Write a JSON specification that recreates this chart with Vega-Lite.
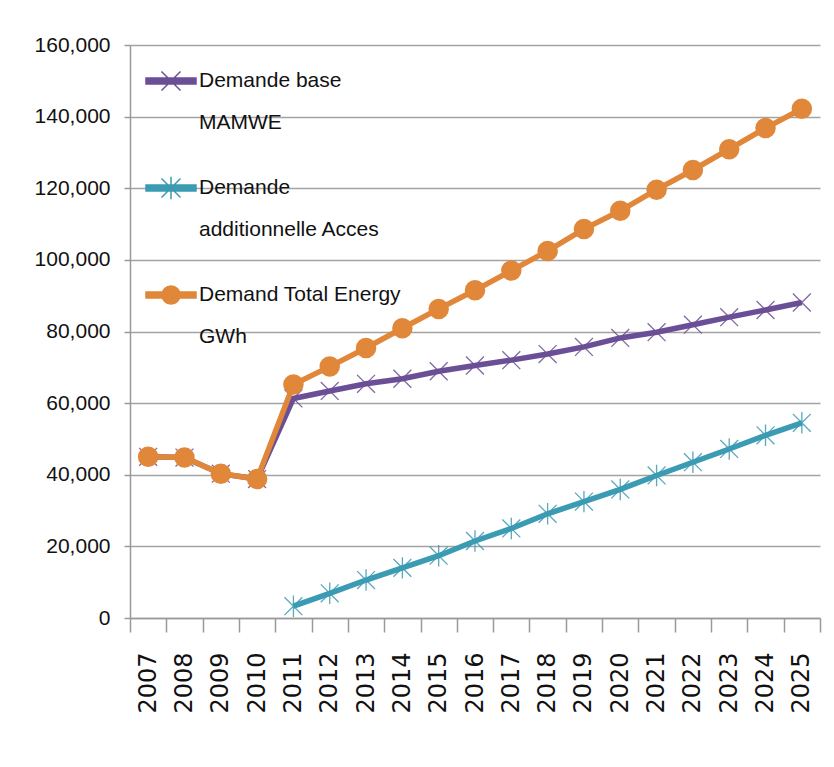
{
  "$schema": "https://vega.github.io/schema/vega-lite/v6.json",
  "width": 690,
  "height": 573,
  "autosize": {"type": "none"},
  "padding": {"left": 130, "top": 45, "right": 14, "bottom": 149},
  "background": "white",
  "data": {
    "values": [
      {"year": "2007", "series": "Demande base MAMWE", "value": 45000},
      {"year": "2008", "series": "Demande base MAMWE", "value": 44800},
      {"year": "2009", "series": "Demande base MAMWE", "value": 40300},
      {"year": "2010", "series": "Demande base MAMWE", "value": 38800},
      {"year": "2011", "series": "Demande base MAMWE", "value": 61300},
      {"year": "2012", "series": "Demande base MAMWE", "value": 63400},
      {"year": "2013", "series": "Demande base MAMWE", "value": 65400},
      {"year": "2014", "series": "Demande base MAMWE", "value": 66800},
      {"year": "2015", "series": "Demande base MAMWE", "value": 68900},
      {"year": "2016", "series": "Demande base MAMWE", "value": 70500},
      {"year": "2017", "series": "Demande base MAMWE", "value": 72000},
      {"year": "2018", "series": "Demande base MAMWE", "value": 73700},
      {"year": "2019", "series": "Demande base MAMWE", "value": 75700},
      {"year": "2020", "series": "Demande base MAMWE", "value": 78200},
      {"year": "2021", "series": "Demande base MAMWE", "value": 79800},
      {"year": "2022", "series": "Demande base MAMWE", "value": 81900},
      {"year": "2023", "series": "Demande base MAMWE", "value": 84000},
      {"year": "2024", "series": "Demande base MAMWE", "value": 86000},
      {"year": "2025", "series": "Demande base MAMWE", "value": 88100},
      {"year": "2011", "series": "Demande additionnelle Acces", "value": 3300},
      {"year": "2012", "series": "Demande additionnelle Acces", "value": 6900},
      {"year": "2013", "series": "Demande additionnelle Acces", "value": 10600},
      {"year": "2014", "series": "Demande additionnelle Acces", "value": 14000},
      {"year": "2015", "series": "Demande additionnelle Acces", "value": 17400},
      {"year": "2016", "series": "Demande additionnelle Acces", "value": 21500},
      {"year": "2017", "series": "Demande additionnelle Acces", "value": 25000},
      {"year": "2018", "series": "Demande additionnelle Acces", "value": 29100},
      {"year": "2019", "series": "Demande additionnelle Acces", "value": 32500},
      {"year": "2020", "series": "Demande additionnelle Acces", "value": 35900},
      {"year": "2021", "series": "Demande additionnelle Acces", "value": 39800},
      {"year": "2022", "series": "Demande additionnelle Acces", "value": 43500},
      {"year": "2023", "series": "Demande additionnelle Acces", "value": 47200},
      {"year": "2024", "series": "Demande additionnelle Acces", "value": 51000},
      {"year": "2025", "series": "Demande additionnelle Acces", "value": 54500},
      {"year": "2007", "series": "Demand Total Energy GWh", "value": 45000},
      {"year": "2008", "series": "Demand Total Energy GWh", "value": 44800},
      {"year": "2009", "series": "Demand Total Energy GWh", "value": 40300},
      {"year": "2010", "series": "Demand Total Energy GWh", "value": 38800},
      {"year": "2011", "series": "Demand Total Energy GWh", "value": 65200},
      {"year": "2012", "series": "Demand Total Energy GWh", "value": 70200},
      {"year": "2013", "series": "Demand Total Energy GWh", "value": 75400},
      {"year": "2014", "series": "Demand Total Energy GWh", "value": 80900},
      {"year": "2015", "series": "Demand Total Energy GWh", "value": 86300},
      {"year": "2016", "series": "Demand Total Energy GWh", "value": 91500},
      {"year": "2017", "series": "Demand Total Energy GWh", "value": 97000},
      {"year": "2018", "series": "Demand Total Energy GWh", "value": 102500},
      {"year": "2019", "series": "Demand Total Energy GWh", "value": 108600},
      {"year": "2020", "series": "Demand Total Energy GWh", "value": 113700},
      {"year": "2021", "series": "Demand Total Energy GWh", "value": 119600},
      {"year": "2022", "series": "Demand Total Energy GWh", "value": 125100},
      {"year": "2023", "series": "Demand Total Energy GWh", "value": 130900},
      {"year": "2024", "series": "Demand Total Energy GWh", "value": 136800},
      {"year": "2025", "series": "Demand Total Energy GWh", "value": 142200}
    ]
  },
  "encoding": {
    "x": {
      "field": "year",
      "type": "ordinal",
      "bandPosition": 0.5,
      "scale": {"type": "band", "paddingInner": 0, "paddingOuter": 0},
      "axis": {
        "title": null,
        "tickBand": "extent",
        "tickSize": 14,
        "tickColor": "#999999",
        "tickWidth": 1.5,
        "domainColor": "#999999",
        "domainWidth": 1.5,
        "labelAngle": 270,
        "labelPadding": 20,
        "labelFont": "DejaVu Sans",
        "labelFontSize": 24,
        "labelColor": "#111111",
        "grid": false
      }
    },
    "y": {
      "field": "value",
      "type": "quantitative",
      "scale": {"domain": [0, 160000], "nice": false},
      "axis": {
        "title": null,
        "values": [0, 20000, 40000, 60000, 80000, 100000, 120000, 140000, 160000],
        "format": ",.0f",
        "tickSize": 6,
        "tickColor": "#999999",
        "tickWidth": 1.5,
        "domainColor": "#999999",
        "domainWidth": 1.5,
        "labelPadding": 14,
        "labelFont": "Liberation Sans",
        "labelFontSize": 21,
        "labelColor": "#111111",
        "grid": true,
        "gridColor": "#a3a3a3",
        "gridWidth": 1.5
      }
    },
    "color": {
      "field": "series",
      "type": "nominal",
      "scale": {
        "domain": ["Demande base MAMWE", "Demande additionnelle Acces", "Demand Total Energy GWh"],
        "range": ["#6b4f96", "#3b9bb3", "#e0873a"]
      },
      "legend": {
        "title": null,
        "orient": "none",
        "legendX": 15,
        "legendY": 10,
        "padding": 0,
        "symbolSize": 2500,
        "labelFont": "Liberation Sans",
        "labelFontSize": 21,
        "labelColor": "#111111",
        "labelLimit": 400,
        "labelOffset": 2,
        "rowPadding": 29,
        "labelExpr": "datum.value == 'Demande base MAMWE' ? ['Demande base', 'MAMWE'] : datum.value == 'Demande additionnelle Acces' ? ['Demande', 'additionnelle Acces'] : ['Demand Total Energy', 'GWh']",
        "encode": {
          "symbols": {
            "update": {
              "shape": {"signal": "datum.value == 'Demande base MAMWE' ? 'M-1,-0.12H1V0.12H-1Z M-0.38,-0.38L0.38,0.38 M-0.38,0.38L0.38,-0.38' : datum.value == 'Demande additionnelle Acces' ? 'M-1,-0.12H1V0.12H-1Z M-0.38,-0.38L0.38,0.38 M-0.38,0.38L0.38,-0.38 M0,-0.45L0,0.45' : 'M-1,-0.12H1V0.12H-1Z M0.36,0A0.36,0.36 0 1,1 -0.36,0A0.36,0.36 0 1,1 0.36,0Z'"},
              "fill": {"scale": "color", "field": "value"},
              "stroke": {"scale": "color", "field": "value"},
              "strokeWidth": {"value": 1.5},
              "opacity": {"value": 1},
              "fillOpacity": {"value": 1}
            }
          },
          "labels": {
            "update": {"lineHeight": {"value": 42}}
          }
        }
      }
    }
  },
  "layer": [
    {
      "transform": [{"filter": "datum.series == 'Demande base MAMWE'"}],
      "mark": {"type": "line", "strokeWidth": 5.5}
    },
    {
      "transform": [{"filter": "datum.series == 'Demande base MAMWE'"}],
      "mark": {"type": "point", "filled": false, "shape": "M-1,-1L1,1M-1,1L1,-1", "size": 320, "strokeWidth": 1.3, "opacity": 0.85}
    },
    {
      "transform": [{"filter": "datum.series == 'Demande additionnelle Acces'"}],
      "mark": {"type": "line", "strokeWidth": 5.5}
    },
    {
      "transform": [{"filter": "datum.series == 'Demande additionnelle Acces'"}],
      "mark": {"type": "point", "filled": false, "shape": "M-1,-1L1,1M-1,1L1,-1M0,-1.2L0,1.2", "size": 320, "strokeWidth": 1.3, "opacity": 0.85}
    },
    {
      "transform": [{"filter": "datum.series == 'Demand Total Energy GWh'"}],
      "mark": {"type": "line", "strokeWidth": 5.5}
    },
    {
      "transform": [{"filter": "datum.series == 'Demand Total Energy GWh'"}],
      "mark": {"type": "point", "filled": true, "shape": "circle", "size": 420, "opacity": 1}
    }
  ],
  "config": {
    "view": {"stroke": null}
  }
}
